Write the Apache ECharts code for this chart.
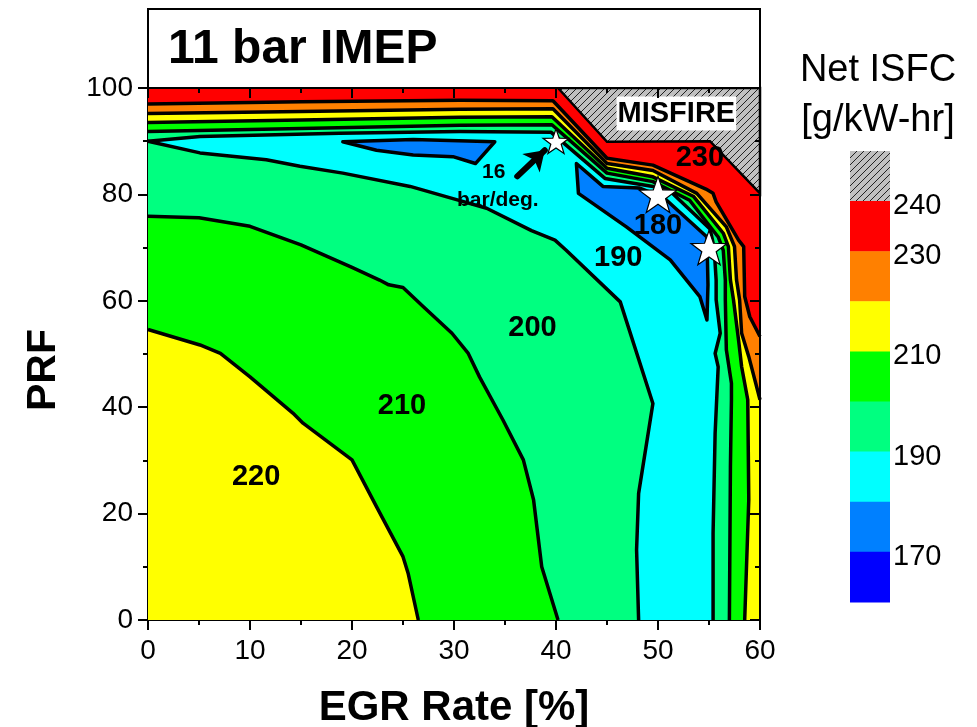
<!DOCTYPE html>
<html>
<head>
<meta charset="utf-8">
<script src="https://cdn.jsdelivr.net/npm/echarts@6/dist/echarts.min.js"></script>
<style>
  html, body { margin: 0; padding: 0; background: #fff; }
  #chart { width: 977px; height: 727px; }
</style>
</head>
<body>
<div id="chart"></div>
<script>
// Net ISFC contour map, 11 bar IMEP. Points are [EGR rate %, PRF].

// Inner contours (closed around the low-EGR / low-PRF corner)
const c220_210 = [[0,54.6],[5.1,51.7],[7.1,50.1],[10.0,45.7],[14.2,38.9],[15.2,37.0],[20.0,30.1],[22.4,21.3],[25.0,11.9],[25.5,8.8],[26.5,0]];
const c210_200 = [[0,75.9],[5,75.6],[10,74.0],[15,70.5],[20,66.3],[22.7,63.9],[23.6,63.0],[25.0,62.5],[27.0,58.9],[29.8,53.9],[31.4,50.1],[32.5,45.7],[34.8,37.6],[36.8,30.1],[37.8,22.6],[38.6,10.0],[40.2,0]];
const c200_190 = [[0,90],[5.1,87.8],[11.6,86.5],[14.9,85.3],[19.1,84.0],[25.7,81.5],[29.9,79.2],[33.2,77.4],[37.6,73.2],[39.9,71.4],[41.0,69.5],[46.3,59.8],[49.5,40.7],[48.1,23.8],[47.9,13.2],[48.1,0]];

// Outer contours (high PRF band and high EGR band)
const c190_200 = [[0,90],[5.1,90.9],[18.8,91.5],[30.6,91.8],[39.5,91.7],[44.8,83.0],[49.5,81.5],[51.2,80.6],[55.1,73.5],[55.5,70.0],[55.7,63.9],[55.7,60.2],[56.1,53.9],[55.6,50.1],[55.9,47.6],[55.6,35.1],[55.4,16.3],[55.4,0]];
const c200_210 = [[0,91.8],[15,92.4],[30.6,93.0],[39.6,93.1],[45.0,84.0],[49.5,82.4],[53.1,78.9],[55.9,72.0],[56.4,69.5],[56.6,63.9],[56.6,60.2],[56.7,50.8],[57.2,44.5],[57.2,41.4],[57.1,28.8],[57.0,0]];
const c210_220 = [[0,93.5],[15,94.0],[30.6,94.5],[39.6,94.6],[45.0,84.9],[49.5,83.3],[53.5,79.6],[56.4,72.7],[56.9,70.2],[57.1,63.9],[57.4,60.2],[57.9,52.6],[58.2,47.6],[58.8,41.4],[58.9,22.6],[58.5,0]];
const c220_230 = [[0,95.2],[15,95.6],[30.6,96.0],[39.7,96.1],[45.0,85.8],[49.5,84.5],[53.8,80.2],[56.7,73.9],[57.5,70.2],[57.7,63.9],[58.0,60.2],[58.2,53.9],[58.9,49.5],[60,41.4]];
const c230_240 = [[0,97.0],[15,97.4],[30.6,97.7],[39.7,97.6],[45.0,86.8],[49.5,85.5],[54.1,81.5],[54.7,81.0],[55.4,80.2],[55.7,78.6],[57.9,71.4],[58.4,70.2],[58.5,60.8],[59.0,57.0],[60,53.3]];

// Closed islands below 180
const island180a = [[19.1,89.9],[26.0,90.3],[34.0,89.9],[32.1,85.8],[29.9,87.1],[26.0,87.4],[22.4,88.3]];
const island180b = [[42.0,85.8],[44.6,81.5],[48.2,81.2],[50.5,79.5],[54.8,72.0],[54.9,63.0],[54.8,56.4],[54.1,60.8],[51.2,67.7],[46.9,73.9],[42.2,80.2]];

// Misfire zone
const misfire = [[40.2,100],[45.0,89.9],[55.1,90.0],[60,80.2],[60,100]];

// Operating points and annotations
const stars = [[40,90],[50,80],[55,70]];
const starSizes = [26, 38, 36];
const regionLabels = [['220',10.6,26.8],['210',24.9,40.2],['200',37.7,54.8],['190',46.1,68.1],['180',50.0,74.1],['230',54.1,86.9]];
const noteLines = [['16',33.9,84.1],['bar/deg.',34.3,79.0]];
const arrowCoords = [[36.2,83.4],[38.9,88.3]];
const misfireLabel = ['MISFIRE',51.8,95.2];

// Colour scale
const scaleColors = ['#FF0000','#FF8000','#FFFF00','#00FF00','#00FF80','#00FFFF','#0080FF','#0000FF'];
const scaleTicks = [240,230,210,190,170];
const scaleTop = 250, scaleStep = 10;

const C = { red:'#FF0000', orange:'#FF8000', yellow:'#FFFF00', green:'#00FF00', spring:'#00FF80', cyan:'#00FFFF', blue:'#0080FF' };
const FONT = 'Liberation Sans, Arial, Helvetica, sans-serif';

function hatchPattern() {
  const c = document.createElement('canvas');
  c.width = 7; c.height = 7;
  const g = c.getContext('2d');
  g.fillStyle = '#C0C0C0';
  g.fillRect(0, 0, 7, 7);
  g.strokeStyle = '#222';
  g.lineWidth = 1;
  g.beginPath();
  g.moveTo(0, 7); g.lineTo(7, 0);
  g.moveTo(-1, 1); g.lineTo(1, -1);
  g.moveTo(6, 8); g.lineTo(8, 6);
  g.stroke();
  return c;
}
const hatch = { image: hatchPattern(), repeat: 'repeat' };

// region below/left of a contour, closed through the plot corners
function regionOf(line) {
  const pts = line.slice();
  const last = pts[pts.length - 1];
  if (last[0] >= 60) pts.push([60, 0]);
  pts.push([0, 0]);
  return pts;
}

const fills = [
  { pts: [[0,0],[60,0],[60,100],[0,100]], fill: C.red },
  { pts: regionOf(c230_240), fill: C.orange },
  { pts: regionOf(c220_230), fill: C.yellow },
  { pts: regionOf(c210_220), fill: C.green },
  { pts: regionOf(c200_210), fill: C.spring },
  { pts: regionOf(c190_200), fill: C.cyan },
  { pts: regionOf(c200_190), fill: C.spring },
  { pts: regionOf(c210_200), fill: C.green },
  { pts: regionOf(c220_210), fill: C.yellow },
  { pts: island180a, fill: C.blue, stroke: '#000', lw: 3.5 },
  { pts: island180b, fill: C.blue, stroke: '#000', lw: 3.5 }
];

const contourLines = [c220_210, c210_200, c200_190, c190_200, c200_210, c210_220, c220_230, c230_240];

const chart = echarts.init(document.getElementById('chart'), null, { renderer: 'canvas' });

const axisBlack = { color: '#000', width: 2 };

const series = [
  {
    type: 'custom', coordinateSystem: 'cartesian2d', silent: true, z: 1,
    data: [[0, 0]],
    renderItem: (params, api) => ({
      type: 'group',
      children: fills.map(f => ({
        type: 'polygon',
        shape: { points: f.pts.map(p => api.coord(p)) },
        style: { fill: f.fill, stroke: f.stroke || null, lineWidth: f.lw || 0, lineJoin: 'round' }
      }))
    })
  }
];

contourLines.forEach(l => series.push({
  type: 'line', data: l, symbol: 'none', silent: true, z: 3, animation: false,
  lineStyle: { color: '#000', width: 3.5, join: 'round', opacity: 1 }
}));

series.push({
  type: 'custom', coordinateSystem: 'cartesian2d', silent: true, z: 4,
  data: [[0, 0]],
  renderItem: (params, api) => ({
    type: 'polygon',
    shape: { points: misfire.map(p => api.coord(p)) },
    style: { fill: hatch, stroke: '#000', lineWidth: 2.5 }
  })
});

series.push({
  type: 'custom', coordinateSystem: 'cartesian2d', silent: true, z: 6,
  data: regionLabels.map(r => [r[1], r[2]]),
  renderItem: (params, api) => {
    const p = api.coord([api.value(0), api.value(1)]);
    return { type: 'text', x: p[0], y: p[1],
      style: { text: regionLabels[params.dataIndex][0], font: 'bold 29px ' + FONT, fill: '#000', align: 'center', verticalAlign: 'middle' } };
  }
});

series.push({
  type: 'custom', coordinateSystem: 'cartesian2d', silent: true, z: 6,
  data: noteLines.map(r => [r[1], r[2]]),
  renderItem: (params, api) => {
    const p = api.coord([api.value(0), api.value(1)]);
    return { type: 'text', x: p[0], y: p[1],
      style: { text: noteLines[params.dataIndex][0], font: 'bold 21px ' + FONT, fill: '#000', align: 'center', verticalAlign: 'middle' } };
  }
});

series.push({
  type: 'custom', coordinateSystem: 'cartesian2d', silent: true, z: 6,
  data: [[misfireLabel[1], misfireLabel[2]]],
  renderItem: (params, api) => {
    const p = api.coord([api.value(0), api.value(1)]);
    return { type: 'text', x: p[0], y: p[1],
      style: { text: misfireLabel[0], font: 'bold 29px ' + FONT, fill: '#000', align: 'center', verticalAlign: 'middle',
        backgroundColor: '#fff', padding: [3, 1, 2, 1] } };
  }
});

series.push({
  type: 'lines', coordinateSystem: 'cartesian2d', silent: true, z: 6,
  symbol: ['none', 'arrow'], symbolSize: 19,
  lineStyle: { color: '#000', width: 6, opacity: 1, cap: 'round' },
  data: [{ coords: arrowCoords }]
});

series.push({
  type: 'scatter', silent: true, z: 7,
  symbol: 'path://M0,-10L2.35,-3.24L9.51,-3.09L3.8,1.24L5.88,8.09L0,4L-5.88,8.09L-3.8,1.24L-9.51,-3.09L-2.35,-3.24Z',
  symbolKeepAspect: true,
  itemStyle: { color: '#fff', borderColor: '#000', borderWidth: 1.2, opacity: 1 },
  data: stars.map((s, i) => ({ value: s, symbolSize: starSizes[i] }))
});

// colour scale and title graphics
const gx = 850, gw = 40, gTop = 151, gStep = 50.1;
const graphics = [
  { type: 'rect', z: 100, shape: { x: 148, y: 9, width: 612, height: 79 }, style: { fill: '#fff', stroke: '#000', lineWidth: 2 } },
  { type: 'text', z: 101, x: 168, y: 50, style: { text: '11 bar IMEP', font: 'bold 48px ' + FONT, fill: '#000', verticalAlign: 'middle' } },
  { type: 'text', z: 101, x: 878, y: 71, style: { text: 'Net ISFC', font: '38px ' + FONT, fill: '#000', align: 'center', verticalAlign: 'middle' } },
  { type: 'text', z: 101, x: 878, y: 121, style: { text: '[g/kW-hr]', font: '38px ' + FONT, fill: '#000', align: 'center', verticalAlign: 'middle' } },
  { type: 'rect', z: 100, shape: { x: gx, y: gTop, width: gw, height: gStep }, style: { fill: hatch } }
];
scaleColors.forEach((col, i) => graphics.push({
  type: 'rect', z: 100, shape: { x: gx, y: gTop + (i + 1) * gStep, width: gw, height: gStep + 0.5 }, style: { fill: col }
}));
scaleTicks.forEach(v => graphics.push({
  type: 'text', z: 101, x: gx + gw + 3, y: gTop + (scaleTop - v) / scaleStep * gStep + 5,
  style: { text: String(v), font: '29px ' + FONT, fill: '#000', verticalAlign: 'middle' }
}));

const option = {
  animation: false,
  backgroundColor: '#fff',
  grid: { left: 148, right: 217, top: 88, bottom: 107, containLabel: false, outerBoundsMode: 'none' },
  xAxis: [
    {
      type: 'value', min: 0, max: 60, interval: 10, position: 'bottom',
      axisLine: { show: true, onZero: false, lineStyle: axisBlack },
      axisTick: { show: true, inside: false, length: 10, lineStyle: axisBlack },
      minorTick: { show: true, splitNumber: 2, length: 5, lineStyle: axisBlack },
      splitLine: { show: false },
      axisLabel: { fontSize: 28, color: '#000', margin: 17, fontFamily: FONT },
      name: 'EGR Rate [%]', nameLocation: 'middle', nameGap: 67,
      nameTextStyle: { fontSize: 42, fontWeight: 'bold', color: '#000', fontFamily: FONT }
    },
    {
      type: 'value', min: 0, max: 60, interval: 10, position: 'top', z: 10,
      axisLine: { show: true, onZero: false, lineStyle: axisBlack },
      axisTick: { show: true, inside: true, length: 10, lineStyle: axisBlack },
      minorTick: { show: true, splitNumber: 2, length: 5, lineStyle: axisBlack },
      splitLine: { show: false }, axisLabel: { show: false }
    }
  ],
  yAxis: [
    {
      type: 'value', min: 0, max: 100, interval: 20, position: 'left',
      axisLine: { show: true, onZero: false, lineStyle: axisBlack },
      axisTick: { show: true, inside: false, length: 10, lineStyle: axisBlack },
      minorTick: { show: true, splitNumber: 2, length: 5, lineStyle: axisBlack },
      splitLine: { show: false },
      axisLabel: { fontSize: 28, color: '#000', margin: 15, fontFamily: FONT },
      name: 'PRF', nameLocation: 'middle', nameGap: 84, nameRotate: 90,
      nameTextStyle: { fontSize: 41, fontWeight: 'bold', color: '#000', fontFamily: FONT, padding: [0, 32, 0, 0] }
    },
    {
      type: 'value', min: 0, max: 100, interval: 20, position: 'right', z: 10,
      axisLine: { show: true, onZero: false, lineStyle: axisBlack },
      axisTick: { show: true, inside: true, length: 10, lineStyle: axisBlack },
      minorTick: { show: true, splitNumber: 2, length: 5, lineStyle: axisBlack },
      splitLine: { show: false }, axisLabel: { show: false }
    }
  ],
  graphic: { elements: graphics },
  series: series
};

chart.setOption(option);
</script>
</body>
</html>
